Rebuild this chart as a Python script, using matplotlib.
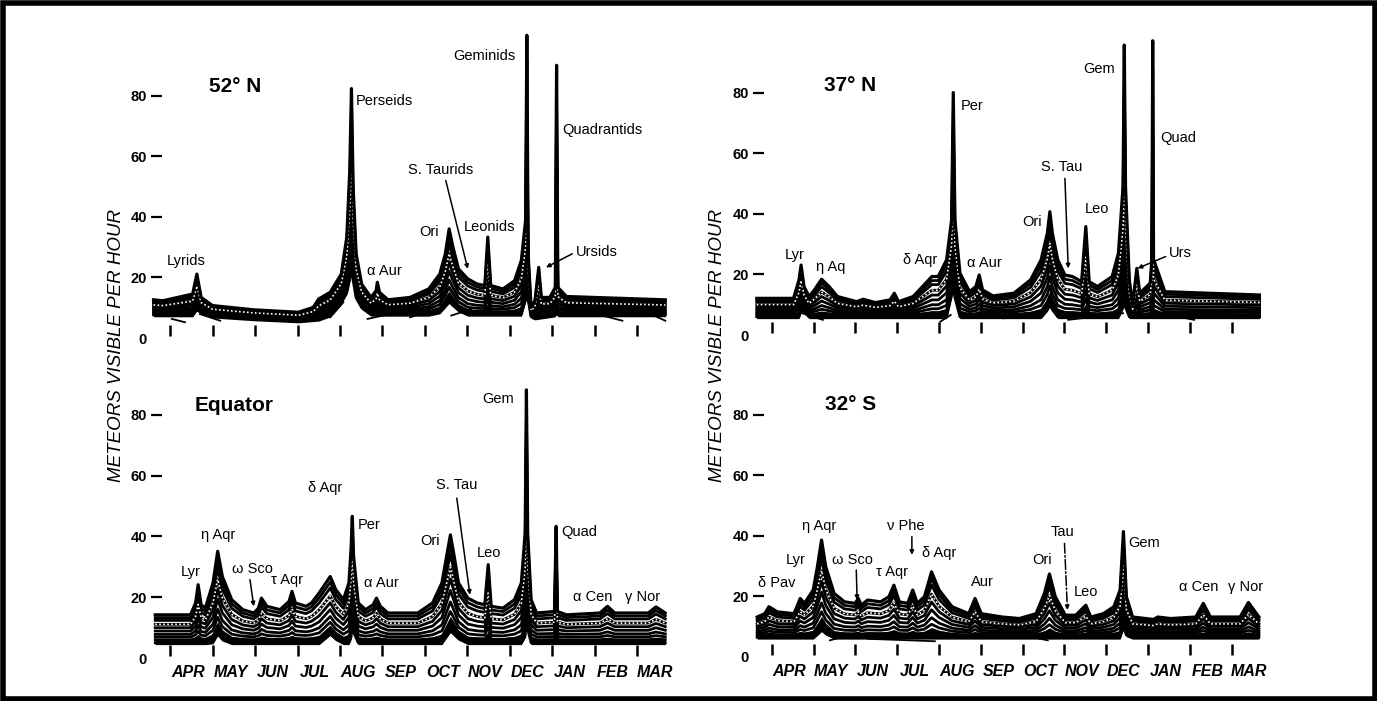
import numpy as np
import matplotlib.pyplot as plt
from matplotlib.patches import Rectangle

plt.rcParams['font.family'] = ['Liberation Sans', 'DejaVu Sans']

months = ['APR', 'MAY', 'JUN', 'JUL', 'AUG', 'SEP', 'OCT', 'NOV', 'DEC', 'JAN', 'FEB', 'MAR']
yticks = [0, 20, 40, 60, 80]

# x in months after 1 April, y in meteors per hour
# ---- 52 N
n52_x = [-0.39, -0.17, 0.53, 0.63, 0.73, 1.0, 1.97, 3.02, 3.37, 3.5, 3.77, 4.03, 4.16, 4.23, 4.27, 4.31,
         4.38, 4.51, 4.73, 4.85, 4.88, 4.93, 5.13, 5.65, 6.09, 6.35, 6.48, 6.57, 6.66, 6.79, 7.01, 7.23,
         7.41, 7.48, 7.55, 7.84, 8.11, 8.27, 8.37, 8.4, 8.43, 8.5, 8.59, 8.68, 8.74, 8.94, 9.07, 9.1,
         9.13, 9.33, 11.66]
n52_top = [12.6, 12.3, 14.5, 21.1, 13.4, 10.7, 9.3, 8.5, 10.1, 12.9, 15.1, 21.1, 33.3, 55.3, 82.3, 49.8,
           27.8, 17.8, 13.4, 15.6, 18.4, 15.1, 12.6, 13.4, 16.2, 21.1, 27.8, 36.0, 30.0, 22.8, 19.5, 17.8,
           17.3, 33.3, 17.3, 16.2, 18.9, 25.6, 38.8, 99.9, 27.8, 10.1, 12.3, 23.3, 13.4, 13.4, 16.7, 90.0,
           16.7, 13.7, 12.6]
n52_bx = [-0.39, 0.55, 0.65, 0.78, 1.97, 3.02, 3.6, 3.9, 4.2, 4.27, 4.35, 4.6, 6.3, 6.57, 6.9, 8.35,
          8.4, 8.45, 8.55, 9.08, 9.1, 9.12, 11.66]
n52_bot = [7.6, 7.6, 10.0, 7.4, 6.3, 5.6, 6.3, 8.5, 16.0, 24.0, 14.0, 7.8, 7.8, 12.0, 7.8, 7.8,
           20.0, 7.6, 6.5, 7.6, 15.0, 7.6, 7.6]
n52_tails_x = [[0.04, 0.35], [0.70, 1.18], [3.77, 4.08], [4.65, 5.17], [5.65, 6.09], [6.62, 7.1],
               [10.04, 10.65], [11.22, 11.66]]
n52_tails_y = [[6.3, 5.2], [7.9, 5.7], [6.8, 11.8], [6.3, 7.9], [6.8, 9.0], [7.4, 9.6],
               [7.9, 5.7], [8.5, 5.7]]
n52_labels = [('Lyrids', -0.09, 25.5), ('Perseids', 4.38, 78.2), ('\u03b1 Aur', 4.64, 22.1),
              ('Ori', 5.87, 34.9), ('S. Taurids', 5.61, 55.3), ('Leonids', 6.92, 36.5),
              ('Geminids', 6.66, 93.0), ('Quadrantids', 9.23, 68.5), ('Ursids', 9.55, 28.5)]
n52_arrows = [((6.49, 52.0), (7.01, 22.8)), ((9.47, 27.8), (8.85, 23.3))]

# ---- 37 N
n37_x = [-0.36, 0.52, 0.65, 0.70, 0.77, 0.89, 1.02, 1.19, 1.37, 1.57, 2.03, 2.18, 2.48, 2.83, 2.93, 3.03,
         3.38, 3.68, 3.83, 3.98, 4.18, 4.30, 4.34, 4.38, 4.50, 4.73, 4.88, 4.96, 5.04, 5.29, 5.79, 6.19,
         6.44, 6.59, 6.65, 6.71, 6.84, 7.01, 7.19, 7.41, 7.51, 7.59, 7.79, 8.14, 8.29, 8.40, 8.43, 8.46,
         8.55, 8.63, 8.73, 8.80, 9.05, 9.09, 9.11, 9.13, 9.40, 11.67]
n37_top = [12.1, 12.1, 18.2, 23.1, 16.0, 12.7, 14.9, 18.4, 16.0, 12.7, 11.0, 11.8, 10.7, 11.6, 13.8, 11.0,
           12.7, 17.1, 19.3, 19.3, 24.8, 38.0, 80.0, 38.0, 20.4, 14.3, 16.0, 19.8, 14.9, 12.9, 13.8, 18.2,
           24.8, 33.6, 40.7, 33.6, 24.8, 19.8, 19.3, 17.6, 35.8, 17.6, 16.0, 19.3, 27.0, 49.0, 95.7, 49.0,
           18.2, 9.9, 22.0, 13.8, 17.1, 25.0, 97.1, 25.0, 14.3, 13.2]
n37_bx = [-0.36, 0.65, 0.72, 0.85, 4.2, 4.34, 4.45, 6.5, 6.65, 6.8, 8.38, 8.43, 8.48, 11.67]
n37_bot = [6.0, 6.0, 9.0, 6.0, 6.0, 16.0, 6.0, 6.0, 10.0, 6.0, 6.0, 14.0, 6.0, 6.0]
n37_tails_x = [[0.72, 1.22], [4.03, 4.28], [5.54, 5.74], [7.09, 8.4], [9.3, 10.1]]
n37_tails_y = [[7.2, 5.0], [4.4, 6.6], [5.5, 6.6], [5.0, 7.2], [7.2, 5.0]]
n37_labels = [('Lyr', 0.32, 26.5), ('\u03b7 Aq', 1.05, 22.3), ('\u03b4 Aqr', 3.13, 24.8),
              ('Per', 4.53, 75.6), ('\u03b1 Aur', 4.68, 23.6), ('Ori', 5.99, 37.4),
              ('S. Tau', 6.44, 55.5), ('Leo', 7.49, 41.5), ('Gem', 7.44, 87.7),
              ('Quad', 9.28, 65.0), ('Urs', 9.5, 27.2)]
n37_arrows = [((7.01, 51.7), (7.09, 22.0)), ((9.42, 25.9), (8.75, 22.0))]

# ---- Equator
eq_x = [-0.35, 0.48, 0.60, 0.66, 0.73, 0.83, 1.01, 1.12, 1.23, 1.45, 1.71, 1.97, 2.08, 2.15, 2.28, 2.59,
        2.80, 2.87, 2.95, 3.2, 3.33, 3.51, 3.77, 3.90, 4.08, 4.21, 4.26, 4.29, 4.32, 4.43, 4.60, 4.78,
        4.86, 4.95, 5.13, 5.83, 6.18, 6.40, 6.51, 6.60, 6.69, 6.79, 7.01, 7.23, 7.41, 7.49, 7.56, 7.84,
        8.11, 8.27, 8.36, 8.39, 8.42, 8.50, 8.63, 9.05, 9.09, 9.12, 9.33, 10.12, 10.30, 10.47, 11.26,
        11.44, 11.66]
eq_top = [14.2, 14.2, 18.1, 24.1, 17.5, 16.4, 24.7, 35.1, 26.8, 19.2, 15.9, 14.8, 16.4, 19.7, 17.0, 15.9,
          18.6, 21.9, 18.1, 17.0, 18.1, 21.4, 26.8, 22.5, 19.2, 24.7, 35.6, 46.6, 33.4, 18.1, 15.9, 17.5,
          19.7, 17.0, 14.8, 14.8, 18.1, 24.7, 33.4, 40.5, 33.4, 24.7, 19.7, 18.1, 17.5, 30.7, 17.0, 16.4,
          19.2, 24.7, 41.1, 88.2, 41.1, 19.2, 14.8, 15.3, 43.3, 15.3, 14.2, 14.8, 17.0, 14.8, 14.8,
          16.8, 14.8]
eq_bx = [-0.35, 1.0, 1.12, 1.3, 3.6, 3.77, 4.0, 4.25, 4.29, 4.35, 6.4, 6.6, 6.9, 8.35, 8.39, 8.45, 11.66]
eq_bot = [5.0, 5.0, 8.0, 5.0, 5.0, 8.0, 5.0, 5.0, 12.0, 5.0, 5.0, 9.0, 5.0, 5.0, 14.0, 5.0, 5.0]
eq_tails_x = []
eq_tails_y = []
eq_labels = [('Lyr', 0.26, 28.2), ('\u03b7 Aqr', 0.73, 40.5), ('\u03c9 Sco', 1.45, 29.3),
             ('\u03c4 Aqr', 2.37, 25.5), ('\u03b4 Aqr', 3.24, 56.0), ('Per', 4.43, 43.7),
             ('\u03b1 Aur', 4.56, 24.7), ('Ori', 5.9, 38.5), ('S. Tau', 6.27, 56.8),
             ('Leo', 7.23, 34.5), ('Gem', 7.36, 85.2), ('Quad', 9.2, 41.6),
             ('\u03b1 Cen', 9.49, 20.0), ('\u03b3 Nor', 10.72, 20.0)]
eq_arrows = [((6.75, 52.6), (7.06, 20.8)), ((1.88, 25.8), (1.97, 17.0))]

# ---- 32 S
s32_x = [-0.35, -0.17, -0.07, 0.13, 0.53, 0.68, 0.78, 0.99, 1.09, 1.19, 1.29, 1.49, 1.74, 1.99, 2.07, 2.14,
         2.29, 2.60, 2.80, 2.92, 3.05, 3.25, 3.37, 3.48, 3.65, 3.82, 4.0, 4.31, 4.71, 4.86, 5.01, 5.51,
         5.92, 6.32, 6.52, 6.64, 6.78, 7.02, 7.27, 7.51, 7.63, 7.93, 8.18, 8.33, 8.41, 8.48, 8.63, 9.13,
         9.23, 9.54, 10.14, 10.32, 10.49, 11.2, 11.40, 11.65]
s32_top = [13.2, 14.3, 16.6, 14.9, 14.3, 19.3, 17.7, 22.1, 29.8, 38.6, 29.8, 21.0, 18.2, 17.7, 19.3, 17.1,
           18.8, 18.2, 19.9, 23.7, 18.2, 17.7, 22.1, 17.7, 19.9, 28.1, 22.1, 16.6, 14.3, 19.3, 14.3, 13.2,
           12.7, 14.3, 21.0, 27.4, 19.9, 13.8, 13.8, 17.1, 13.2, 14.3, 16.6, 22.1, 41.4, 19.9, 13.2, 12.4,
           13.2, 12.7, 13.2, 17.7, 13.2, 13.2, 18.0, 13.2]
s32_bx = [-0.35, 1.0, 1.19, 1.4, 8.35, 8.41, 8.5, 11.65]
s32_bot = [6.5, 6.5, 9.0, 6.5, 6.5, 10.0, 6.5, 6.5]
s32_tails_x = [[1.39, 2.04, 2.3, 3.9], [7.83, 8.08, 8.23], [6.0, 6.6]]
s32_tails_y = [[5.5, 8.0, 6.0, 5.2], [6.6, 8.3, 6.6], [7.2, 5.5]]
s32_labels = [('\u03b4 Pav', -0.32, 24.3), ('Lyr', 0.33, 32.0), ('\u03b7 Aqr', 0.73, 43.3),
              ('\u03c9 Sco', 1.44, 32.0), ('\u03c4 Aqr', 2.5, 28.0), ('\u03bd Phe', 2.75, 43.3),
              ('\u03b4 Aqr', 3.6, 34.2), ('Aur', 4.76, 24.8), ('Ori', 6.22, 32.0),
              ('Tau', 6.67, 41.4), ('Leo', 7.22, 21.5), ('Gem', 8.53, 37.5),
              ('\u03b1 Cen', 9.74, 23.2), ('\u03b3 Nor', 10.9, 23.2)]
s32_arrows = [((3.35, 39.7), (3.35, 33.7)), ((2.02, 28.7), (2.04, 18.8))]
s32_dash_arrows = [((7.0, 37.5), (7.07, 15.5))]

W, H = 1377, 701
fig = plt.figure(figsize=(W / 100, H / 100), dpi=100)
fig.patch.set_facecolor('white')


def px_axes(x0, x1, zero, ppu, ylo, yhi):
    bottom = zero - ylo * ppu
    top = zero - yhi * ppu
    ax = fig.add_axes([x0 / W, 1 - bottom / H, (x1 - x0) / W, (bottom - top) / H])
    ax.set_xlim(-0.45, 11.7)
    ax.set_ylim(ylo, yhi)
    return ax


# share of the way from the lowest to the highest curve for the hourly lines in between
fracs = [0.0, 0.1, 0.2, 0.3, 0.42, 0.54, 0.66, 0.8, 0.9]


def panel(ax, title, x, top, bx, bot, tx, ty, labels, arrows, show_months, dash_arrows=()):
    x = np.array(x)
    t = np.array(top)
    b = np.interp(x, bx, bot)
    ax.fill_between(x, b - 0.6, b + 0.15 * (t - b), color='k', lw=0)
    for f in fracs:
        ax.plot(x, b + f * (t - b), color='k', lw=2.0)
    ax.plot(x, b + 0.66 * (t - b), color='white', lw=1.2, ls=(0, (1, 1.4)))
    ax.plot(x, t, color='k', lw=2.3)
    for xs, ys in zip(tx, ty):
        ax.plot(xs, ys, color='k', lw=1.3)

    ax.text(title[1], title[2], title[0], fontsize=15, fontweight='bold', ha='left', va='center')
    for s, lx, ly in labels:
        ax.text(lx, ly, s, fontsize=10.5, ha='left', va='center')
    for a, e in arrows:
        ax.annotate('', xy=e, xytext=a,
                    arrowprops=dict(arrowstyle='-|>', lw=1.1, color='k', mutation_scale=6, shrinkA=0, shrinkB=0))
    for a, e in dash_arrows:
        ax.annotate('', xy=e, xytext=a,
                    arrowprops=dict(arrowstyle='-|>', lw=1.1, color='k', ls='-.', mutation_scale=6,
                                    shrinkA=0, shrinkB=0))

    for sp in ['top', 'right', 'left']:
        ax.spines[sp].set_visible(False)
    ax.spines['bottom'].set_position(('data', 0.8))
    ax.spines['bottom'].set_color('none')
    ax.set_xticks(range(12))
    ax.tick_params(axis='x', which='major', direction='in', length=8, width=1.8, labelbottom=False)
    if show_months:
        ax.set_xticks(np.arange(12) + 0.42, minor=True)
        ax.set_xticklabels(months, minor=True, fontsize=11.5, fontweight='bold', fontstyle='italic')
        ax.tick_params(axis='x', which='minor', length=0, pad=7)
    else:
        ax.set_xticks([], minor=True)
    ax.set_yticks(yticks)
    ax.set_yticklabels([str(v) for v in yticks], fontsize=10.5, fontweight='bold')
    ax.tick_params(axis='y', direction='in', length=8, width=1.6, pad=3)
    ax.yaxis.get_major_ticks()[0].tick1line.set_visible(False)
    ax.patch.set_alpha(0)


ax1 = px_axes(151, 667, 338, 3.03, -2, 105)
panel(ax1, ('52\u00b0 N', 0.92, 83.1), n52_x, n52_top, n52_bx, n52_bot, n52_tails_x, n52_tails_y,
      n52_labels, n52_arrows, False)

ax2 = px_axes(753, 1261, 335, 3.03, -2, 105)
panel(ax2, ('37\u00b0 N', 1.25, 82.5), n37_x, n37_top, n37_bx, n37_bot, n37_tails_x, n37_tails_y,
      n37_labels, n37_arrows, False)

ax3 = px_axes(151, 667, 658, 3.04, -2, 92)
panel(ax3, ('Equator', 0.57, 83.0), eq_x, eq_top, eq_bx, eq_bot, eq_tails_x, eq_tails_y,
      eq_labels, eq_arrows, True)

ax4 = px_axes(753, 1261, 657, 3.03, -2, 92)
panel(ax4, ('32\u00b0 S', 1.27, 83.3), s32_x, s32_top, s32_bx, s32_bot, s32_tails_x, s32_tails_y,
      s32_labels, s32_arrows, True, s32_dash_arrows)

for xp in [117, 718]:
    fig.text(xp / W, 1 - 345 / H, 'METEORS VISIBLE PER HOUR', rotation=90, fontsize=13.5,
             fontstyle='italic', ha='center', va='center')

fig.patches.append(Rectangle((2.5 / W, 2.5 / H), 1 - 5 / W, 1 - 5 / H, transform=fig.transFigure,
                             fill=False, lw=4, ec='k'))

fig.savefig('out.png', dpi=100)
